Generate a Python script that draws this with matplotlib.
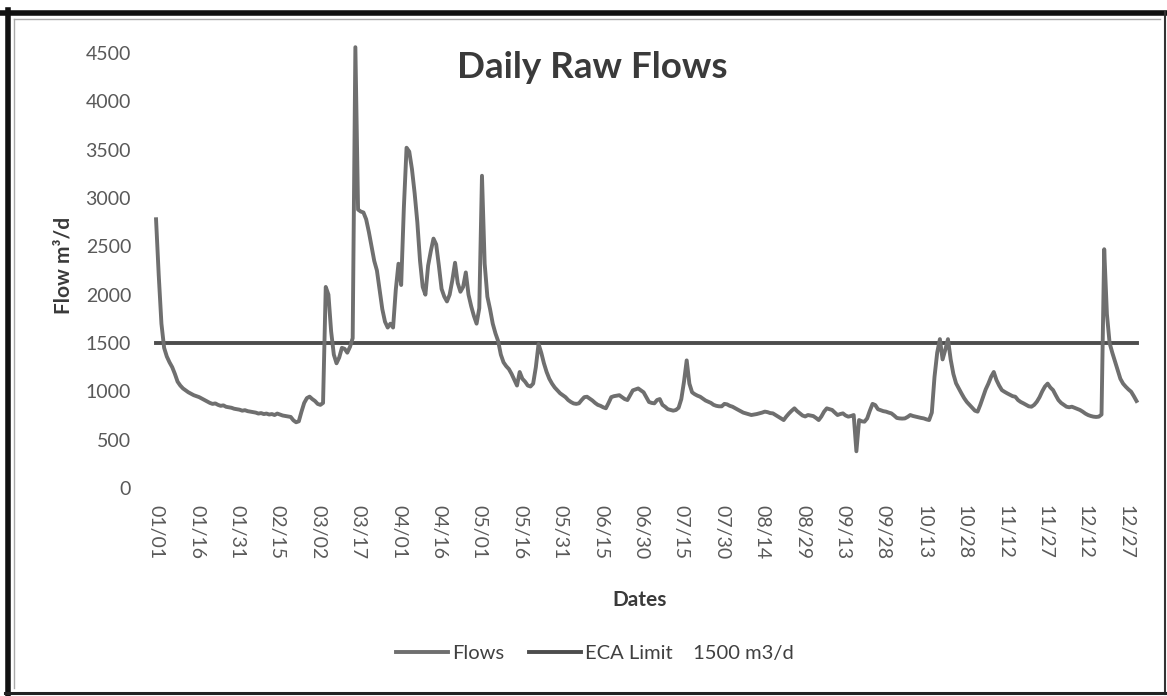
import matplotlib
matplotlib.use("Agg")
import matplotlib.pyplot as plt
from matplotlib.lines import Line2D
import pandas as pd

# daily raw flows (m3/d), one value per day from 01/01 to 12/31
flows = [
    2780, 2200, 1700, 1450, 1360, 1300, 1250, 1180, 1100, 1060,
    1030, 1010, 990, 975, 960, 950, 940, 925, 910, 895,
    880, 870, 875, 860, 850, 855, 840, 835, 830, 820,
    815, 810, 800, 805, 795, 790, 785, 780, 770, 775,
    765, 770, 760, 765, 755, 770, 760, 750, 745, 740,
    735, 700, 680, 690, 790, 880, 930, 945, 920, 900,
    870, 860, 880, 2080, 2000, 1620, 1380, 1290, 1350, 1450,
    1440, 1400, 1460, 1550, 4560, 2880, 2860, 2850, 2780, 2650,
    2500, 2350, 2250, 2050, 1850, 1720, 1660, 1700, 1660, 2050,
    2320, 2100, 2900, 3520, 3480, 3300, 3050, 2750, 2350, 2080,
    2000, 2300, 2450, 2580, 2520, 2300, 2060, 1980, 1930, 2000,
    2150, 2330, 2120, 2030, 2080, 2230, 2000, 1880, 1780, 1700,
    1860, 3230, 2320, 1980, 1850, 1700, 1600, 1520, 1380, 1300,
    1260, 1230, 1180, 1120, 1060, 1200, 1130, 1100, 1060, 1050,
    1080, 1250, 1490, 1400, 1290, 1200, 1130, 1080, 1040, 1010,
    980, 960, 940, 910, 890, 875, 870, 876, 910, 940,
    944, 925, 905, 880, 860, 850, 835, 825, 880, 940,
    950, 955, 960, 940, 920, 910, 960, 1010, 1020, 1030,
    1010, 990, 940, 890, 880, 876, 910, 920, 860, 840,
    815, 807, 800, 807, 830, 920, 1100, 1320, 1080, 990,
    970, 955, 944, 925, 905, 893, 880, 860, 850, 845,
    845, 870, 865, 850, 841, 825, 810, 795, 780, 772,
    765, 755, 760, 765, 772, 780, 790, 785, 775, 772,
    755, 738, 720, 703, 740, 772, 800, 824, 795, 772,
    750, 740, 755, 750, 744, 725, 703, 740, 790, 824,
    815, 807, 780, 755, 765, 772, 750, 738, 745, 755,
    380, 703, 690, 686, 720, 800, 870, 858, 815, 805,
    795, 790, 780, 772, 750, 725, 720, 718, 720, 735,
    755, 745, 738, 730, 725, 720, 710, 703, 780, 1150,
    1400, 1540, 1330, 1430, 1540, 1330, 1180, 1083, 1030, 979,
    930, 890, 860, 830, 800, 790, 860, 940, 1020, 1080,
    1150, 1200, 1117, 1060, 1013, 995, 979, 965, 950, 944,
    910, 890, 876, 860, 845, 841, 860, 893, 940, 1000,
    1050, 1080, 1040, 1013, 960, 910, 880, 860, 841, 835,
    841, 830, 820, 807, 790, 770, 755, 745, 738, 735,
    738, 760, 2470, 1800, 1500, 1400, 1310, 1220, 1130, 1080,
    1048, 1020, 996, 950, 900,
]
eca_limit = 1500
dates = pd.date_range("2019-01-01", periods=len(flows), freq="D")
date_labels = dates.strftime("%m/%d")
tick_step = 15
y_ticks = [0, 500, 1000, 1500, 2000, 2500, 3000, 3500, 4000, 4500]

plt.rcParams["font.family"] = ["Lato", "DejaVu Sans"]

W, H = 1167, 696
fig = plt.figure(figsize=(W / 100, H / 100), dpi=100)
fig.patch.set_facecolor("white")

# plot area in pixels: x 145..1150, y 38..488
ax = fig.add_axes([145 / W, (H - 488) / H, (1150 - 145) / W, (488 - 38.5) / H])
days = list(range(len(flows)))

ax.plot(days, flows, color="#6f6f6f", lw=2.8, solid_joinstyle="round", label="Flows", zorder=3)
ax.plot(days, [eca_limit] * len(days), color="#4d4d4d", lw=2.8,
        label="ECA Limit    1500 m3/d", zorder=2)

ax.set_xlim(-4.1, 369)
ax.set_ylim(0, 4650)
ax.set_yticks(y_ticks)
ax.set_xticks(days[::tick_step])
ax.set_xticklabels(date_labels[::tick_step], rotation=-90)
ax.tick_params(axis="both", length=0, labelsize=14, colors="#595959")
ax.tick_params(axis="y", pad=10)
ax.tick_params(axis="x", pad=12)
for s in ax.spines.values():
    s.set_visible(False)

fig.text(592 / W, 1 - 68 / H, "Daily Raw Flows", ha="center", va="center",
         fontsize=26.5, fontweight="bold", color="#3a3a3a")
fig.text(63 / W, 1 - 265 / H, "Flow m³/d", ha="center", va="center", rotation=90,
         fontsize=15, fontweight="bold", color="#3a3a3a")
fig.text(640 / W, 1 - 600 / H, "Dates", ha="center", va="center",
         fontsize=15, fontweight="bold", color="#3a3a3a")

handles, labels = ax.get_legend_handles_labels()
fig.legend(handles, labels, loc="center", bbox_to_anchor=(595 / W, 1 - 653 / H),
           ncol=2, frameon=False, fontsize=14.5, handlelength=2.6, handletextpad=0.2,
           columnspacing=1.2, labelcolor="#404040")

# scanned frame around the chart
def frame_line(x0, y0, x1, y1, lw, color):
    fig.add_artist(Line2D([x0 / W, x1 / W], [1 - y0 / H, 1 - y1 / H],
                          transform=fig.transFigure, lw=lw, color=color))

frame_line(0, 13, W, 13, 4.0, "#111111")
frame_line(8, 10, 8, H, 4.0, "#111111")
frame_line(1165, 12, 1165, 694, 1.5, "#333333")
frame_line(5, 693, 1167, 693, 2.2, "#222222")
frame_line(14, 19, 1160, 19, 1.0, "#aaaaaa")
frame_line(14, 19, 14, 688, 1.0, "#aaaaaa")

fig.savefig("out.png", dpi=100)
